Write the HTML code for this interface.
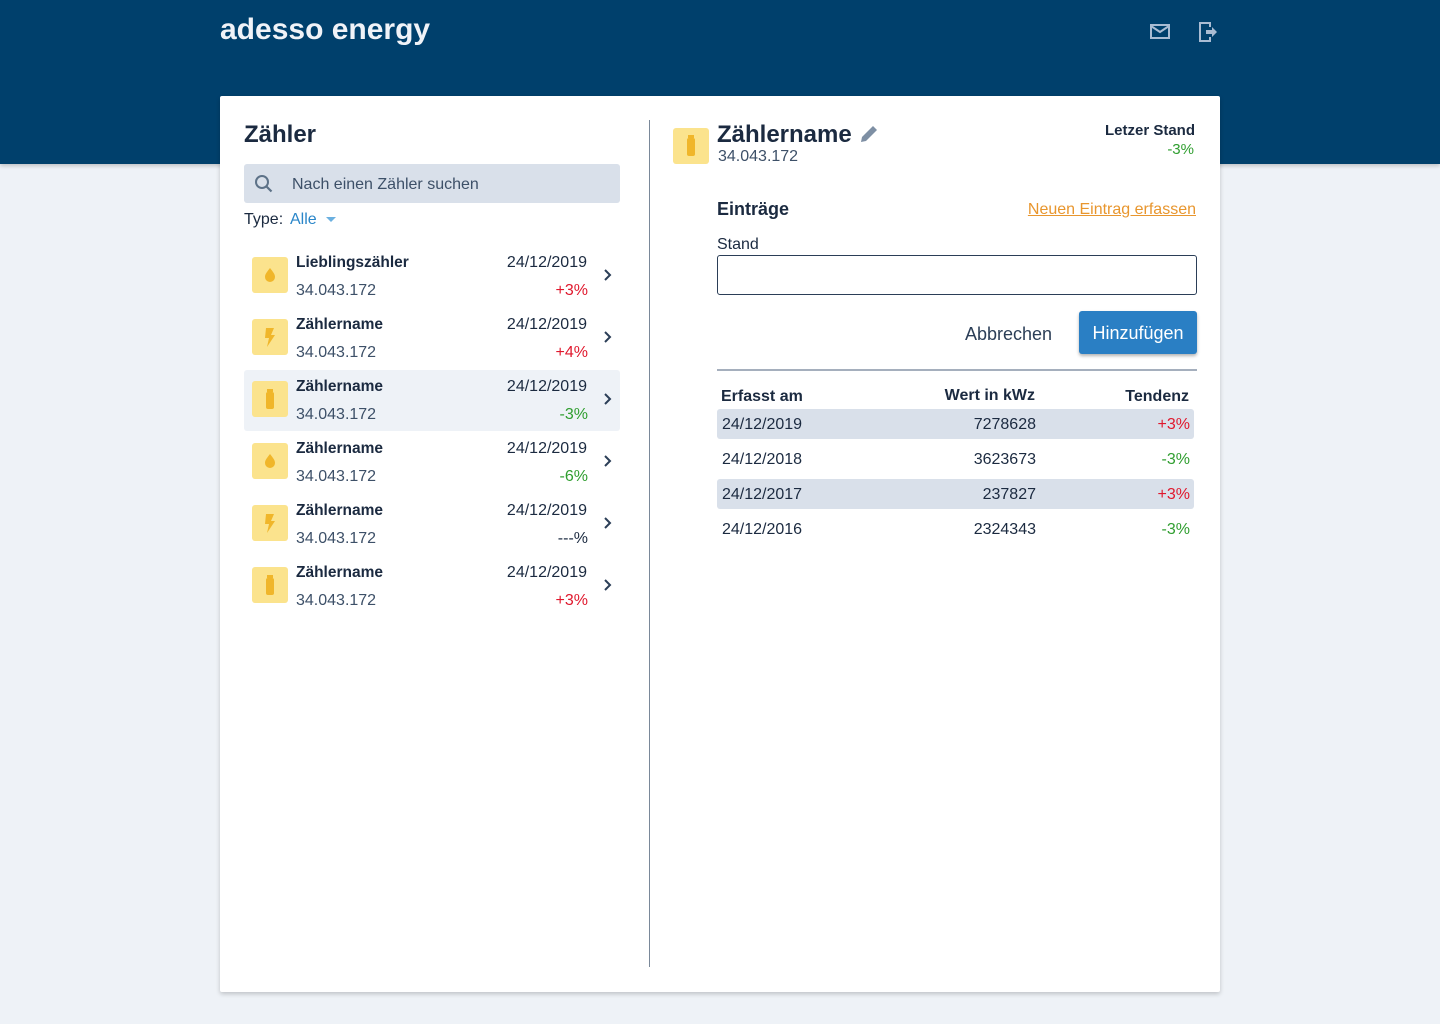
<!DOCTYPE html>
<html><head><meta charset="utf-8"><style>
*{box-sizing:border-box;margin:0;padding:0}
body{width:1440px;height:1024px;background:#eef2f7;font-family:"Liberation Sans",sans-serif;color:#1b2a40;position:relative;overflow:hidden}
.abs{position:absolute}
#hdr{left:0;top:0;width:1440px;height:164px;background:#00406c;box-shadow:0 2px 4px rgba(0,0,0,.2)}
#card{left:220px;top:96px;width:1000px;height:896px;background:#fff;box-shadow:0 2px 5px rgba(0,0,0,.2);border-radius:2px}
.row{position:absolute;left:244px;width:376px;height:61px;border-radius:3px}
.ico{position:absolute;width:36px;height:36px;background:#fbe38d;border-radius:3px}
.t16{font-size:16px;white-space:nowrap}
.red{color:#e0182d}.grn{color:#2f9e2f}
.tr{position:absolute;left:717px;width:477px;height:30px;border-radius:3px}
</style></head><body>
<div id="hdr" class="abs"></div>
<div class="abs" style="left:220px;top:13px;font-size:30px;font-weight:bold;color:#f0f3f8">adesso energy</div>
<svg class="abs" style="left:1149px;top:22px" width="22" height="20"><rect x="2" y="3" width="18" height="13" fill="none" stroke="#a9bcd3" stroke-width="2"/><path d="M2 4l9 6 9-6" fill="none" stroke="#a9bcd3" stroke-width="2"/></svg>
<svg class="abs" style="left:1197px;top:20px" width="22" height="24"><path d="M13 7V3H3v18h10v-4" fill="none" stroke="#a9bcd3" stroke-width="2"/><path d="M9 10h6V7l5 5-5 5v-3H9z" fill="#a9bcd3"/></svg>
<div id="card" class="abs"></div>
<div class="abs" style="left:649px;top:120px;width:1px;height:847px;background:#7a8899"></div>

<div class="abs" style="left:244px;top:121px;font-size:24px;font-weight:bold;color:#1b2a40">Zähler</div>
<div class="abs" style="left:244px;top:164px;width:376px;height:39px;background:#d9e0ea;border-radius:3px">
<svg class="abs" style="left:10px;top:10px" width="20" height="20"><circle cx="8" cy="8" r="6" fill="none" stroke="#5d7288" stroke-width="2"/><path d="M12.5 12.5l5 5" stroke="#5d7288" stroke-width="2.2"/></svg>
<div class="abs t16" style="left:48px;top:12px;color:#3d5068">Nach einen Zähler suchen</div></div>
<div class="abs t16" style="left:244px;top:211px;color:#1b2a40">Type:</div>
<div class="abs t16" style="left:290px;top:211px;color:#2a86c9">Alle <span style="display:inline-block;width:0;height:0;border-left:5px solid transparent;border-right:5px solid transparent;border-top:5px solid #6bb0e0;margin-left:5px;vertical-align:middle"></span></div>
<div id="list"></div>

<div class="ico" style="left:673px;top:128px"><svg width="36" height="36"><rect x="14" y="10" width="8" height="18" rx="2" fill="#f0b62a"/><rect x="15" y="7" width="6" height="3" fill="#f0b62a"/></svg></div>
<div class="abs" style="left:717px;top:121px;font-size:24px;font-weight:bold">Zählername</div>
<svg class="abs" style="left:858px;top:123px" width="22" height="22"><path d="M3 19l1-5L15 3l4 4L8 18z" fill="#7e8fa4"/></svg>
<div class="abs t16" style="left:718px;top:148px;color:#3d5068">34.043.172</div>
<div class="abs" style="left:1060px;top:122px;width:135px;text-align:right;font-size:15px;font-weight:bold">Letzer Stand</div>
<div class="abs grn" style="left:1060px;top:141px;width:134px;text-align:right;font-size:15px">-3%</div>
<div class="abs" style="left:717px;top:199px;font-size:18px;font-weight:bold">Einträge</div>
<div class="abs t16" style="left:996px;top:201px;width:200px;text-align:right;color:#e8962e;text-decoration:underline">Neuen Eintrag erfassen</div>
<div class="abs t16" style="left:717px;top:236px">Stand</div>
<div class="abs" style="left:717px;top:255px;width:480px;height:40px;border:1px solid #2b3e57;border-radius:3px"></div>
<div class="abs" style="left:965px;top:324px;font-size:18px;color:#2b3e57">Abbrechen</div>
<div class="abs" style="left:1079px;top:311px;width:118px;height:43px;background:#2a7fc4;border-radius:3px;box-shadow:0 2px 3px rgba(0,0,0,.3);color:#fff;font-size:18px;text-align:center;line-height:44px">Hinzufügen</div>
<div class="abs" style="left:717px;top:369px;width:480px;height:2px;background:#a5afbd"></div>
<div class="abs t16" style="left:721px;top:388px;font-weight:bold">Erfasst am</div>
<div class="abs t16" style="left:835px;top:387px;width:200px;text-align:right;font-weight:bold">Wert in kWz</div>
<div class="abs t16" style="left:1039px;top:388px;width:150px;text-align:right;font-weight:bold">Tendenz</div>
<div id="tbl"></div>

<script>
const meterNames=["Lieblingszähler","Zählername","Zählername","Zählername","Zählername","Zählername"];
const meterDates=["24/12/2019","24/12/2019","24/12/2019","24/12/2019","24/12/2019","24/12/2019"];
const meterTrends=["+3%","+4%","-3%","-6%","---%","+3%"];
const meterTypes=["water","power","gas","water","power","gas"];
const entryDates=["24/12/2019","24/12/2018","24/12/2017","24/12/2016"];
const entryValues=["7278628","3623673","237827","2324343"];
const entryTrends=["+3%","-3%","+3%","-3%"];
const icons={water:'<path d="M18 11c3 4 5 6 5 9a5 5 0 0 1-10 0c0-3 2-5 5-9z" fill="#f0b62a"/>',
power:'<path d="M14 9h8l-3 7h4l-8 12 2-9h-4z" fill="#f0b62a"/>',
gas:'<rect x="14" y="11" width="8" height="17" rx="2" fill="#f0b62a"/><rect x="15" y="8" width="6" height="3" fill="#f0b62a"/>'};
const list=document.getElementById('list');
const cls=t=>t.startsWith('+')?'red':(t.startsWith('-')&&t!=='---%'?'grn':'');
meterNames.forEach((n,i)=>{
 const y=247+i*62;
 const r=document.createElement('div');r.className='row';r.style.top=(y-1)+'px';
 if(i===2)r.style.background='#eef2f7';
 
 
 r.innerHTML='<div class="ico" style="left:8px;top:11px"><svg width="36" height="36">'+icons[meterTypes[i]]+'</svg></div>'+
 '<div class="abs t16" style="left:52px;top:8px;font-weight:bold;font-size:15.5px">'+n+'</div>'+
 '<div class="abs t16" style="left:52px;top:36px;color:#3d5068">34.043.172</div>'+
 '<div class="abs t16" style="left:220px;top:8px;width:123px;text-align:right">'+meterDates[i]+'</div>'+
 '<div class="abs t16 '+cls(meterTrends[i])+'" style="left:220px;top:36px;width:124px;text-align:right">'+meterTrends[i]+'</div>'+
 '<svg class="abs" style="left:359px;top:22px" width="10" height="14"><path d="M2 2l5 5-5 5" fill="none" stroke="#2b3e57" stroke-width="2"/></svg>';
 list.appendChild(r);
});
const tbl=document.getElementById('tbl');
entryDates.forEach((d,i)=>{
 const r=document.createElement('div');r.className='tr';r.style.top=(409+i*35)+'px';
 if(i%2===0)r.style.background='#d9e0ea';
 
 
 r.innerHTML='<div class="abs t16" style="left:5px;top:7px">'+d+'</div>'+
 '<div class="abs t16" style="left:119px;top:7px;width:200px;text-align:right">'+entryValues[i]+'</div>'+
 '<div class="abs t16 '+cls(entryTrends[i])+'" style="left:322px;top:7px;width:151px;text-align:right">'+entryTrends[i]+'</div>';
 tbl.appendChild(r);
});
</script>
</body></html>
